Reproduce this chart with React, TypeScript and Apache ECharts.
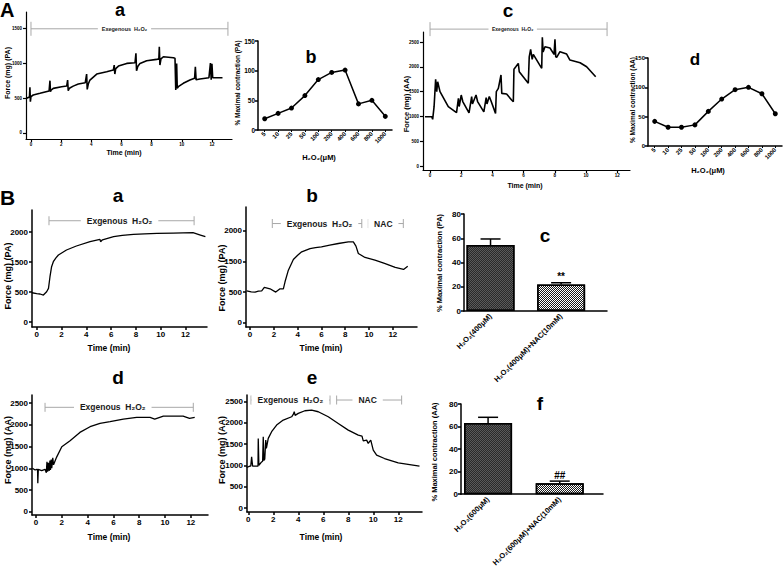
import React, { useEffect, useRef } from 'react';
import * as echarts from 'echarts';

const FONT = '"Liberation Sans", Arial, sans-serif';

// ---------- data ----------
const TIME_TICKS = [0, 2, 4, 6, 8, 10, 12];
const FORCE_TICKS_PA_A = [0, 500, 1000, 1500];
const FORCE_TICKS_AA = [0, 500, 1000, 1500, 2000, 2500];
// panels B-a / B-b use an axis whose 4 evenly spaced ticks read 0, 500, 1500, 2000
const B_PA_TICK_POS = [0, 500, 1000, 1500];
const B_PA_TICK_LABELS = ['0', '500', '1500', '2000'];

const CONC = ['5', '10', '25', '50', '100', '200', '400', '600', '800', '1000'];
const PA_DOSE = [19, 28, 37, 58, 85, 97, 101, 44, 50, 23];
const AA_DOSE = [42, 32, 32, 36, 59, 80, 96, 100, 89, 55];

const TRACE_A_A = [
  [-0.29, 496], [-0.1, 515], [-0.07, 653], [-0.04, 448], [0.0, 519], [0.15, 543], [0.6, 567], [1.2, 600],
  [1.26, 748], [1.29, 590], [1.33, 612], [1.48, 638], [2.03, 662], [2.37, 671], [2.43, 757], [2.47, 605],
  [2.55, 640], [2.8, 670], [3.14, 700], [3.6, 719], [3.69, 843], [3.73, 624], [3.8, 700], [3.91, 757],
  [4.36, 843], [5.02, 876], [5.46, 900], [5.52, 971], [5.56, 843], [5.62, 920], [5.8, 957], [6.35, 995],
  [6.9, 1005], [6.96, 1138], [7.0, 890], [7.08, 950], [7.23, 995], [7.67, 1033], [8.33, 1052], [8.48, 1060],
  [8.51, 1233], [8.55, 971], [8.62, 1060], [8.78, 1090], [9.44, 1076], [9.55, 1070], [9.6, 614], [9.66, 995],
  [9.7, 640], [9.77, 662], [10.1, 710], [10.54, 757], [10.85, 781], [10.9, 948], [10.95, 760], [11.2, 771],
  [11.8, 790], [11.9, 1000], [11.95, 760], [12.0, 990], [12.05, 790], [12.7, 790],
];

const TRACE_A_C = [
  [-0.32, 994], [0.11, 994], [0.17, 941], [0.26, 1196], [0.36, 1747], [0.43, 1499], [0.49, 1700], [0.64, 1499],
  [1.17, 1196], [1.7, 1075], [1.82, 1365], [1.87, 1200], [2.0, 1431], [2.1, 1300], [2.5, 1070], [2.67, 1398],
  [2.72, 1250], [2.95, 1431], [3.05, 1300], [3.45, 1090], [3.6, 1380], [3.65, 1250], [3.8, 1400], [3.9, 1320],
  [4.2, 1062], [4.25, 1499], [4.38, 1566], [4.55, 1835], [4.6, 1465], [4.91, 1452], [5.23, 1331], [5.34, 1297],
  [5.38, 1950], [5.5, 2000], [5.66, 2070], [5.72, 1900], [6.3, 1667], [6.36, 2200], [6.45, 2352], [6.55, 2150],
  [6.62, 2250], [7.16, 1970], [7.2, 2594], [7.25, 2300], [7.37, 2405], [7.69, 2380], [7.95, 2250], [8.01, 2554],
  [8.06, 2200], [8.12, 2191], [8.33, 2305], [8.76, 2258], [8.97, 2137], [9.62, 2083], [10.04, 2002], [10.62, 1800],
];

const TRACE_B_A = [
  [-0.38, 488], [0.0, 475], [0.27, 467], [0.54, 450], [0.8, 505], [0.95, 560], [1.07, 755], [1.2, 922],
  [1.34, 1005], [1.55, 1070], [1.75, 1117], [2.4, 1200], [3.2, 1267], [4.3, 1339], [5.1, 1378], [5.15, 1339],
  [5.3, 1370], [6.2, 1422], [6.9, 1445], [7.8, 1461], [8.7, 1470], [9.7, 1478], [11, 1483], [12.6, 1489],
  [13.2, 1450], [13.6, 1422],
];

const TRACE_B_B = [
  [-0.28, 521], [0.1, 505], [0.42, 500], [0.7, 515], [0.98, 521], [1.2, 576], [1.68, 554], [2.16, 500],
  [2.52, 554], [2.8, 554], [2.94, 668], [3.22, 858], [3.64, 1032], [4.0, 1100], [4.34, 1157], [5.04, 1211],
  [5.5, 1225], [6.0, 1238], [6.7, 1265], [7.42, 1293], [8.26, 1319], [8.68, 1319], [8.9, 1250], [9.1, 1130],
  [9.66, 1065], [10.5, 1021], [11.3, 967], [12.2, 902], [12.9, 870], [13.25, 923],
];

const TRACE_B_D = [
  [-0.28, 1000], [-0.07, 961], [0.06, 976], [0.12, 976], [0.14, 654], [0.18, 976], [0.44, 946], [0.7, 976],
  [0.8, 900], [0.85, 1150], [0.9, 920], [0.96, 1128], [1.02, 940], [1.08, 1180], [1.12, 960], [1.18, 1204],
  [1.22, 1000], [1.3, 1243], [1.36, 1080], [1.6, 1258], [2.0, 1497], [2.64, 1635], [3.4, 1827], [4.19, 1958],
  [4.96, 2035], [5.74, 2074], [6.77, 2135], [7.8, 2174], [8.84, 2174], [9.2, 2135], [9.87, 2204], [11.4, 2204],
  [11.9, 2150], [12.3, 2174],
];

const TRACE_B_E = [
  [-0.13, 953], [0.13, 983], [0.2, 983], [0.27, 1203], [0.35, 983], [0.67, 983], [0.78, 983], [0.8, 1637],
  [0.85, 1005], [1.07, 1084], [1.15, 1100], [1.2, 1676], [1.25, 1120], [1.32, 1150], [1.4, 1598], [1.45, 1400],
  [1.6, 1637], [1.87, 1794], [2.27, 1950], [2.8, 2068], [3.47, 2146], [3.6, 2200], [3.68, 2264], [3.75, 2180],
  [4.0, 2225], [4.53, 2288], [5.07, 2303], [5.6, 2264], [6.4, 2146], [7.2, 1989], [8.0, 1832], [8.8, 1715],
  [9.1, 1690], [9.2, 1580], [9.47, 1597], [9.6, 1520], [9.7, 1560], [9.8, 1597], [10.0, 1361], [10.27, 1243],
  [10.9, 1164], [12.0, 1062], [13.7, 983],
];

const C_CATS = ['H₂O₂(400μM)', 'H₂O₂(400μM)+NAC(10mM)'];
const C_MEAN = [54.4, 21.9];
const C_ERR = [59.4, 23.3];
const C_MARK = ['', '**'];
const F_CATS = ['H₂O₂(600μM)', 'H₂O₂(600μM)+NAC(10mM)'];
const F_MEAN = [63.2, 9.7];
const F_ERR = [68.2, 11.6];
const F_MARK = ['', '##'];

// treatment periods (minutes) and label centre
const SPAN_A_A = [{ from: 0, to: 13.06, y: 1490, at: 6.2, label: 'Exegenous  H₂O₂' }];
const SPAN_A_C = [{ from: 0, to: 11.35, y: 2760, at: 5.3, label: 'Exegenous  H₂O₂' }];
const SPAN_B_A = [{ from: 0.99, to: 12.69, y: 1688, at: 6.68, label: 'Exgenous  H₂O₂' }];
const SPAN_B_B = [
  { from: 1.87, to: 9.39, y: 1619, at: 5.84, label: 'Exgenous  H₂O₂' },
  { from: 9.94, to: 12.88, y: 1619, at: 11.2, label: 'NAC' },
];
const SPAN_B_D = [{ from: 0.7, to: 12.19, y: 2405, at: 5.95, label: 'Exgenous  H₂O₂' }];
const SPAN_B_E = [
  { from: 0.22, to: 6.54, y: 2540, at: 3.37, label: 'Exgenous  H₂O₂' },
  { from: 7.07, to: 12.27, y: 2540, at: 9.55, label: 'NAC' },
];

// ---------- helpers ----------
const AXIS_LINE = (w: number) => ({ show: true, onZero: false, lineStyle: { color: '#000', width: w } });

function timeX(gridIndex: number, min: number, max: number, fs: number, w: number) {
  return {
    type: 'value', gridIndex, min, max,
    axisLine: AXIS_LINE(w),
    axisTick: { show: true, length: 3, customValues: TIME_TICKS, lineStyle: { color: '#000', width: w } },
    axisLabel: {
      customValues: TIME_TICKS, fontSize: fs, fontWeight: 'bold', fontFamily: FONT, color: '#000', margin: 3,
      formatter: (v: number) => String(v),
    },
    splitLine: { show: false },
  };
}

function forceY(gridIndex: number, min: number, max: number, ticks: number[], fs: number, w: number, labels?: string[]) {
  return {
    type: 'value', gridIndex, min, max,
    axisLine: AXIS_LINE(w),
    axisTick: { show: true, length: 3, customValues: ticks, lineStyle: { color: '#000', width: w } },
    axisLabel: {
      customValues: ticks, fontSize: fs, fontWeight: 'bold', fontFamily: FONT, color: '#000', margin: 4,
      formatter: (v: number) => (labels ? labels[ticks.indexOf(v)] ?? '' : String(v)),
    },
    splitLine: { show: false },
  };
}

function doseX(gridIndex: number) {
  return {
    type: 'category', gridIndex, data: CONC, boundaryGap: true,
    axisLine: AXIS_LINE(1.5),
    axisTick: { show: true, length: 2, alignWithLabel: true, lineStyle: { color: '#000', width: 1 } },
    axisLabel: { interval: 0, rotate: 45, fontSize: 6, fontWeight: 'bold', fontFamily: FONT, color: '#000', margin: 3 },
  };
}

function pctY(gridIndex: number, max: number, interval: number, fs: number) {
  return {
    type: 'value', gridIndex, min: 0, max, interval,
    axisLine: AXIS_LINE(1.5),
    axisTick: { show: true, length: 3, lineStyle: { color: '#000', width: 1.5 } },
    axisLabel: { fontSize: fs, fontWeight: 'bold', fontFamily: FONT, color: '#000', margin: 3, formatter: (v: number) => String(v) },
    splitLine: { show: false },
  };
}

function barX(gridIndex: number, min: number, max: number, cats: string[]) {
  return {
    type: 'value', gridIndex, min, max,
    axisLine: AXIS_LINE(1.5),
    axisTick: { show: false },
    axisLabel: {
      customValues: [1, 2], rotate: 45, fontSize: 7.5, fontWeight: 'bold', fontFamily: FONT, color: '#000', margin: 4,
      formatter: (v: number) => cats[Math.round(v) - 1] ?? '',
    },
    splitLine: { show: false },
  };
}

function traceSeries(idx: number, data: number[][], w: number) {
  return {
    type: 'line', xAxisIndex: idx, yAxisIndex: idx, data, symbol: 'none',
    lineStyle: { color: '#000', width: w }, itemStyle: { color: '#000' }, z: 2,
  };
}

function doseSeries(idx: number, data: number[]) {
  return {
    type: 'line', xAxisIndex: idx, yAxisIndex: idx, data, symbol: 'circle', symbolSize: 5, showSymbol: true,
    lineStyle: { color: '#000', width: 1.5 }, itemStyle: { color: '#000' },
  };
}

const DARK_DECAL = { symbol: 'rect', symbolSize: 1, color: '#2a2a2a', dashArrayX: [[1, 1], [0, 1, 1, 0]], dashArrayY: [1, 0] };
const LIGHT_DECAL = { symbol: 'rect', symbolSize: 1, color: '#1a1a1a', dashArrayX: [[1, 1], [0, 1, 1, 0]], dashArrayY: [1, 0] };

function barSeries(idx: number, means: number[]) {
  return {
    type: 'bar', xAxisIndex: idx, yAxisIndex: idx, barWidth: 48,
    data: means.map((m, i) => ({
      value: [i + 1, m],
      itemStyle: i === 0
        ? { color: '#5a5a5a', borderColor: '#000', borderWidth: 1.5, decal: DARK_DECAL }
        : { color: '#ffffff', borderColor: '#000', borderWidth: 1.5, decal: LIGHT_DECAL },
    })),
    z: 2,
  };
}

function errSeries(idx: number, means: number[], errs: number[], marks: string[]) {
  return {
    type: 'custom', xAxisIndex: idx, yAxisIndex: idx, z: 3,
    data: means.map((m, i) => [i + 1, m, errs[i]]),
    renderItem: (params: any, api: any) => {
      const x = api.value(0);
      const p0 = api.coord([x, api.value(1)]);
      const p1 = api.coord([x, api.value(2)]);
      const children: any[] = [
        { type: 'line', shape: { x1: p0[0], y1: p0[1], x2: p1[0], y2: p1[1] }, style: { stroke: '#000', lineWidth: 1.5 } },
        { type: 'line', shape: { x1: p1[0] - 10, y1: p1[1], x2: p1[0] + 10, y2: p1[1] }, style: { stroke: '#000', lineWidth: 1.5 } },
      ];
      const mark = marks[params.dataIndex];
      if (mark) {
        children.push({
          type: 'text', x: p1[0], y: p1[1] - 1,
          style: { text: mark, fill: '#000', font: `bold 10px ${FONT}`, align: 'center', verticalAlign: 'bottom' },
        });
      }
      return { type: 'group', children };
    },
  };
}

function spanSeries(idx: number, spans: any[], fs: number, h: number) {
  return {
    type: 'custom', xAxisIndex: idx, yAxisIndex: idx, clip: false, z: 4,
    data: spans.map((s) => [s.from, s.to, s.y, s.at]),
    renderItem: (params: any, api: any) => {
      const a = api.coord([api.value(0), api.value(2)]);
      const b = api.coord([api.value(1), api.value(2)]);
      const c = api.coord([api.value(3), api.value(2)]);
      const st = { stroke: '#a8a8a8', lineWidth: 1 };
      return {
        type: 'group',
        children: [
          { type: 'line', shape: { x1: a[0], y1: a[1], x2: b[0], y2: b[1] }, style: st },
          { type: 'line', shape: { x1: a[0], y1: a[1] - h, x2: a[0], y2: a[1] + h }, style: st },
          { type: 'line', shape: { x1: b[0], y1: b[1] - h, x2: b[0], y2: b[1] + h }, style: st },
          {
            type: 'text', x: c[0], y: c[1],
            style: {
              text: spans[params.dataIndex].label, fill: '#1a1a1a', font: `bold ${fs}px ${FONT}`,
              align: 'center', verticalAlign: 'middle', backgroundColor: '#fff', padding: [0, fs * 0.7],
            },
          },
        ],
      };
    },
  };
}

function txt(text: string, x: number, y: number, size: number, rotate = false, align = 'center') {
  return {
    type: 'text', x, y, rotation: rotate ? Math.PI / 2 : 0,
    style: { text, fill: '#000', font: `bold ${size}px ${FONT}`, align, verticalAlign: 'middle' },
  };
}

const GRAPHIC = [
  // panel letters / titles
  txt('A', 0, 9.5, 20, false, 'left'),
  txt('a', 120, 10, 18),
  txt('b', 311, 56.7, 18),
  txt('c', 508, 10.4, 19),
  txt('d', 695, 59, 17),
  txt('B', 0, 197.7, 21, false, 'left'),
  txt('a', 118, 195.4, 19),
  txt('b', 312, 195.4, 19),
  txt('c', 545, 235.4, 19),
  txt('d', 118, 377.4, 19),
  txt('e', 312, 377.4, 19),
  txt('f', 540, 403.4, 19),
  // axis names
  txt('Force (mg) (PA)', 7, 73, 7, true),
  txt('Time (min)', 124, 152, 7),
  txt('% Maximal contraction (PA)', 237.5, 83, 6.5, true),
  txt('H₂O₂(μM)', 319, 157, 7.5),
  txt('Force (mg) (AA)', 406, 104, 7.5, true),
  txt('Time (min)', 525, 185, 7),
  txt('% Maximal contraction (AA)', 632, 100, 6.5, true),
  txt('H₂O₂(μM)', 708, 170, 7.5),
  txt('Force (mg) (PA)', 7.5, 276, 9, true),
  txt('Time (min)', 109, 348, 8.5),
  txt('Force (mg) (PA)', 222, 278, 9, true),
  txt('Time (min)', 321, 348, 8.5),
  txt('% Maximal contraction (PA)', 439, 263, 7.5, true),
  txt('Force (mg) (AA)', 7.5, 450, 9, true),
  txt('Time (min)', 109, 537, 8.5),
  txt('Force (mg) (AA)', 222, 450, 9, true),
  txt('Time (min)', 321, 537, 8.5),
  txt('% Maximal contraction (AA)', 434, 452, 7.5, true),
];

function buildOption() {
  return {
    animation: false,
    backgroundColor: '#fff',
    textStyle: { fontFamily: FONT },
    grid: [
      { left: 26, top: 12, width: 206, height: 127 },
      { left: 258, top: 41, width: 134, height: 89 },
      { left: 423, top: 32, width: 207, height: 138 },
      { left: 648, top: 58, width: 134, height: 88 },
      { left: 32, top: 210, width: 175, height: 117 },
      { left: 246, top: 207, width: 171, height: 120 },
      { left: 464, top: 214, width: 143, height: 97 },
      { left: 32, top: 395, width: 176, height: 120 },
      { left: 247, top: 395, width: 175, height: 117 },
      { left: 461, top: 404, width: 142, height: 97 },
    ],
    xAxis: [
      timeX(0, -0.33, 13.33, 4.5, 1.2),
      doseX(1),
      timeX(2, -0.45, 12.82, 4.5, 1.2),
      doseX(3),
      timeX(4, -0.38, 13.73, 8, 1.5),
      timeX(5, -0.34, 14.03, 8, 1.5),
      barX(6, 0.624, 2.65, C_CATS),
      timeX(7, -0.31, 13.33, 8, 1.5),
      timeX(8, -0.1, 13.9, 8, 1.5),
      barX(9, 0.622, 2.604, F_CATS),
    ],
    yAxis: [
      forceY(0, -86, 1730, FORCE_TICKS_PA_A, 4.5, 1.2),
      pctY(1, 150, 50, 6.5),
      forceY(2, -80, 2702, FORCE_TICKS_AA, 4.5, 1.2),
      pctY(3, 150, 50, 6),
      forceY(4, -83, 1867, B_PA_TICK_POS, 8, 1.5, B_PA_TICK_LABELS),
      forceY(5, -70, 1889, B_PA_TICK_POS, 8, 1.5, B_PA_TICK_LABELS),
      pctY(6, 80, 20, 8),
      forceY(7, -76, 2689, FORCE_TICKS_AA, 8, 1.5),
      forceY(8, -94, 2658, FORCE_TICKS_AA, 8, 1.5),
      pctY(9, 80, 20, 8),
    ],
    series: [
      traceSeries(0, TRACE_A_A, 1.6),
      spanSeries(0, SPAN_A_A, 5.5, 7),
      doseSeries(1, PA_DOSE),
      traceSeries(2, TRACE_A_C, 1.6),
      spanSeries(2, SPAN_A_C, 5, 7),
      doseSeries(3, AA_DOSE),
      traceSeries(4, TRACE_B_A, 1.3),
      spanSeries(4, SPAN_B_A, 8.5, 4.5),
      traceSeries(5, TRACE_B_B, 1.3),
      spanSeries(5, SPAN_B_B, 8.5, 4.5),
      barSeries(6, C_MEAN),
      errSeries(6, C_MEAN, C_ERR, C_MARK),
      traceSeries(7, TRACE_B_D, 1.3),
      spanSeries(7, SPAN_B_D, 8.5, 4.5),
      traceSeries(8, TRACE_B_E, 1.3),
      spanSeries(8, SPAN_B_E, 8.5, 4.5),
      barSeries(9, F_MEAN),
      errSeries(9, F_MEAN, F_ERR, F_MARK),
    ],
    graphic: GRAPHIC,
  };
}

export default function App() {
  const ref = useRef<HTMLDivElement>(null);
  useEffect(() => {
    if (!ref.current) return;
    const chart = echarts.init(ref.current, null, { renderer: 'svg' });
    chart.setOption(buildOption() as any);
    return () => chart.dispose();
  }, []);
  return <div ref={ref} style={{ position: 'absolute', left: 0, top: 0, width: 783, height: 569 }} />;
}
